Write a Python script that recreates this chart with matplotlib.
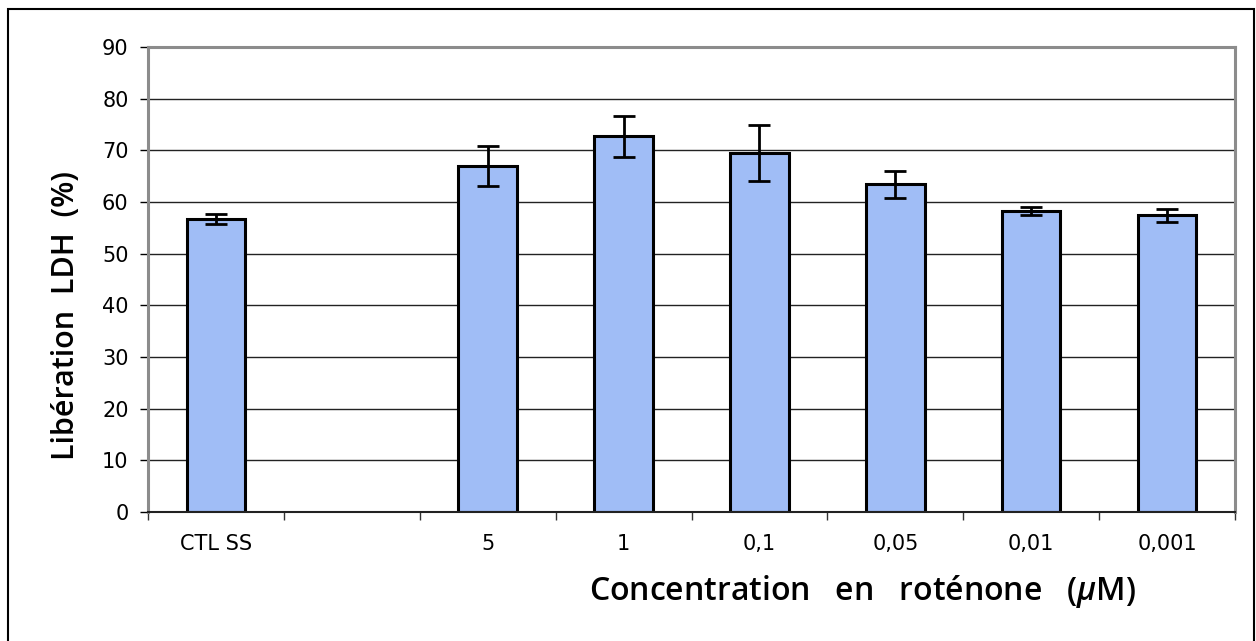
import numpy as np
import matplotlib
matplotlib.use("Agg")
import matplotlib.pyplot as plt
from matplotlib.patches import Rectangle

categories = ["CTL SS", "", "5", "1", "0,1", "0,05", "0,01", "0,001"]
values = [56.7, np.nan, 66.9, 72.7, 69.5, 63.4, 58.3, 57.4]
errors = [1.0, np.nan, 3.9, 3.9, 5.4, 2.6, 0.8, 1.3]
yticks = [0, 10, 20, 30, 40, 50, 60, 70, 80, 90]

plt.rcParams['font.family'] = ['DejaVu Sans']
plt.rcParams['mathtext.fontset'] = 'custom'
plt.rcParams['mathtext.it'] = 'Open Sans:italic:semibold'
plt.rcParams['mathtext.rm'] = 'Open Sans:semibold'

W, H = 1256, 641
fig = plt.figure(figsize=(W / 100, H / 100), dpi=100)
ax = fig.add_axes([148 / W, 1 - 512 / H, (1235 - 148) / W, (512 - 47) / H])

x = np.arange(len(categories))
vals = np.array(values, dtype=float)
errs = np.array(errors, dtype=float)
mask = ~np.isnan(vals)

ax.set_axisbelow(True)
ax.bar(x[mask], vals[mask], width=0.43, color='#A0BDF6', edgecolor='black',
       linewidth=2.2, zorder=2)
ax.errorbar(x[mask], vals[mask], yerr=errs[mask], fmt='none', ecolor='black',
            elinewidth=2, capsize=8, capthick=2, zorder=3)

ax.set_xlim(-0.5, len(categories) - 0.5)
ax.set_ylim(0, 90)
ax.set_yticks(yticks)
ax.set_yticklabels([str(v) for v in yticks], fontsize=15)
ax.yaxis.grid(True, color='#222222', linewidth=1)
ax.tick_params(axis='y', direction='out', length=6, width=1, color='black', pad=8)

ax.set_xticks(np.arange(len(categories) + 1) - 0.5)
ax.set_xticklabels([])
ax.set_xticks(x, minor=True)
ax.set_xticklabels(categories, minor=True, fontsize=15)
ax.tick_params(axis='x', which='major', direction='out', length=6, width=1, color='#333333')
ax.tick_params(axis='x', which='minor', length=0, pad=16)

for s in ['left', 'right', 'top']:
    ax.spines[s].set_color('#8c8c8c')
    ax.spines[s].set_linewidth(2.2)
ax.spines['bottom'].set_color('#222222')
ax.spines['bottom'].set_linewidth(1.5)

fig.text(66 / W, 1 - 316 / H, "Libération  LDH  (%)", rotation=90, ha='center',
         va='center', fontsize=22, fontweight='semibold', family=['Open Sans', 'DejaVu Sans'])
fig.text(863 / W, 1 - 592 / H, r"Concentration   en   roténone   ($\mathit{\mu}$M)", ha='center',
         va='center', fontsize=23, fontweight='semibold', family=['Open Sans', 'DejaVu Sans'])

fig.patches.append(Rectangle((8 / W, -0.05), (1254 - 8) / W, 1.05 - 9 / H,
                             transform=fig.transFigure, fill=False,
                             edgecolor='black', linewidth=1.5))

fig.savefig("out.png", dpi=100, facecolor='white')
